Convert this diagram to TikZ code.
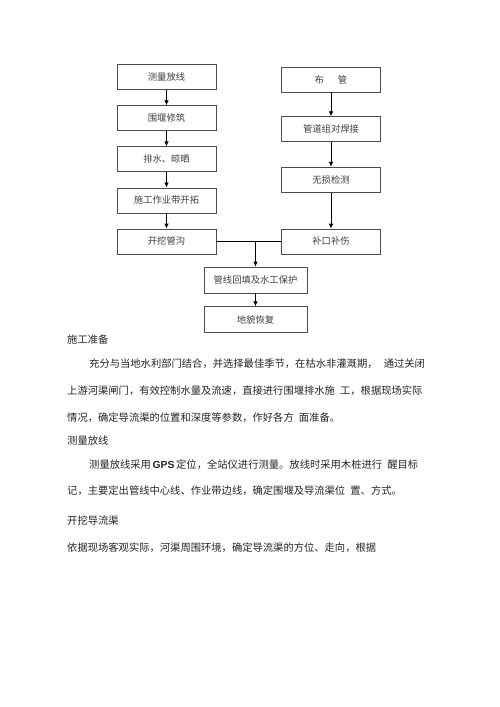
\documentclass[tikz,border=0pt]{standalone}
\usepackage{fontspec}
\setmainfont{Noto Sans CJK SC}
\newfontfamily\latinsans{Liberation Sans}
\usepackage{xcolor}
\usetikzlibrary{arrows.meta,positioning}

\begin{document}
\begin{tikzpicture}[x=1pt,y=1pt,
box/.style={draw=black!70,line width=.6pt,minimum width=99pt,minimum height=25pt,inner sep=0pt,align=center,font=\fontsize{9.3}{11}\selectfont,text=black!75},arr/.style={-{Latex[length=5pt,width=4.5pt]},line width=.8pt},
txt/.style={anchor=west,inner sep=0pt,font=\fontsize{10.3}{12}\selectfont,text=black!85}]
\useasboundingbox[fill=white] (0,0) rectangle (500,-707);
\node[box] (fx) at (166.5,-77) {测量放线};
\node[box,below=15.5pt of fx] (wy) {围堰修筑};
\node[box,below=15.5pt of wy] (ps) {排水、晾晒};
\node[box,below=15.5pt of ps] (sg) {施工作业带开拓};
\node[box,below=15.5pt of sg] (kw) {开挖管沟};
\node[box] (bg) at (331,-79.5) {布\hspace{1.5em}管};
\node[box,below=24pt of bg] (hj) {管道组对焊接};
\node[box,below=25pt of hj] (ws) {无损检测};
\node[box] (bk) at (bg |- kw) {补口补伤};
\node[box,minimum width=103pt,minimum height=26pt] (hf) at (255.5,-280) {管线回填及水工保护};
\node[box,minimum width=103pt,minimum height=26pt,below=13pt of hf] (dm) {地貌恢复};
\draw[arr] (fx)--(wy); \draw[arr] (wy)--(ps); \draw[arr] (ps)--(sg); \draw[arr] (sg)--(kw);
\draw[arr] (bg)--(hj); \draw[arr] (hj)--(ws); \draw[arr] (ws)--(bk);
\draw[line width=.6pt] (kw.east)--(bk.west);
\coordinate (jn) at (kw.east -| hf.north);
\draw[arr] (jn)--(hf.north); \draw[arr] (hf)--(dm);
% text below the chart
\node[txt] (h1) at (67,-340) {施工准备};
\node[txt] (p1) at (89,-364) {充分与当地水利部门结合，并选择最佳季节，在枯水非灌溉期，\hspace{.6em}通过关闭};
\node[txt] (p2) at (67,-391) {上游河渠闸门，有效控制水量及流速，直接进行围堰排水施\hspace{.5em}工，根据现场实际};
\node[txt] (p3) at (67,-418) {情况，确定导流渠的位置和深度等参数，作好各方\hspace{.5em}面准备。};
\node[txt] (h2) at (67,-441) {测量放线};
\node[txt] (p4) at (89,-465) {测量放线采用\,{\latinsans\bfseries GPS}\,定位，全站仪进行测量。放线时采用木桩进行\hspace{.5em}醒目标};
\node[txt] (p5) at (67,-491) {记，主要定出管线中心线、作业带边线，确定围堰及导流渠位\hspace{.5em}置、方式。};
\node[txt] (h3) at (67,-521) {开挖导流渠};
\node[txt] (p6) at (67,-548) {依据现场客观实际，河渠周围环境，确定导流渠的方位、走向，根据};
\end{tikzpicture}
\end{document}
